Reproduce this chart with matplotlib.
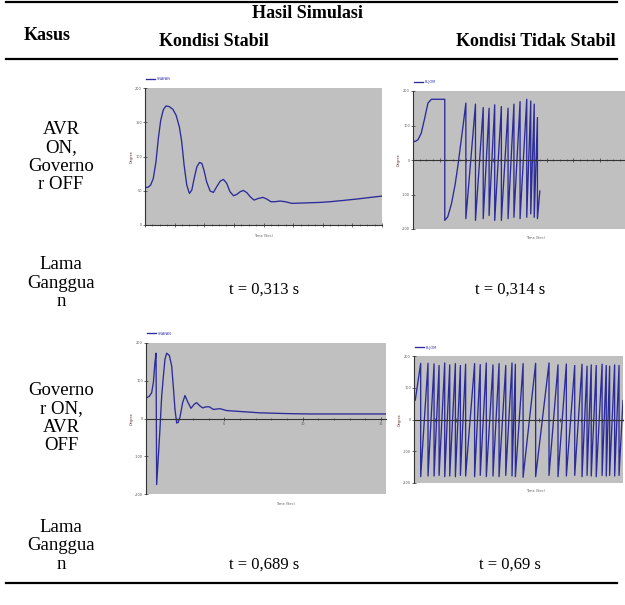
import matplotlib
matplotlib.use("Agg")
import matplotlib.pyplot as plt
from matplotlib.lines import Line2D

# ---------------- data ----------------
# Case 1: AVR ON, Governor OFF - stable (rotor angle, degree)
t_avr_stable = [0.00, 0.11, 0.19, 0.28, 0.37, 0.45, 0.53, 0.62, 0.71, 0.82, 0.94, 1.05, 1.16, 1.24,
                1.32, 1.41, 1.50, 1.58, 1.66, 1.75, 1.84, 1.92, 1.99, 2.08, 2.20, 2.31, 2.42, 2.54,
                2.65, 2.76, 2.87, 2.99, 3.10, 3.21, 3.32, 3.44, 3.55, 3.68, 3.83, 3.98, 4.11, 4.25,
                4.39, 4.56, 4.73, 4.96, 5.24, 5.58, 5.92, 6.25, 6.70, 7.15, 7.61, 8.00]
v_avr_stable = [54.4, 55.3, 58.3, 68.0, 92.2, 126.2, 152.9, 168.4, 173.8, 172.8, 168.9, 160.2, 143.2,
                121.4, 87.4, 58.3, 46.1, 51.0, 68.0, 84.9, 91.3, 89.8, 80.1, 63.1, 49.5, 47.6, 55.8,
                64.1, 66.5, 60.7, 48.5, 42.7, 44.7, 48.5, 50.5, 47.1, 41.3, 36.4, 38.8, 40.3, 37.9,
                34.0, 34.0, 35.0, 34.0, 31.6, 32.0, 32.5, 33.0, 34.0, 35.9, 37.9, 40.3, 42.2]

# Case 1: AVR ON, Governor OFF - unstable
t_avr_unstable = [0.00, 0.09, 0.19, 0.31, 0.44, 0.56, 0.69, 1.19, 1.19, 1.30, 1.44, 1.58, 1.69,
                  1.80, 1.88, 1.98,
                  1.98, 2.34, 2.34, 2.63, 2.63, 2.85, 2.85, 3.06, 3.06, 3.31, 3.31, 3.56, 3.56,
                  3.78, 3.78, 4.01, 4.01, 4.26, 4.26, 4.41, 4.41, 4.54, 4.54, 4.66, 4.66, 4.75]
v_avr_unstable = [54, 54, 59, 78, 122, 165, 176, 176, -175, -165, -127, -70, -12,
                  55, 102, 165,
                  -170, 162, -175, 152, -170, 150, -161, 160, -175, 155, -175, 150, -170,
                  162, -166, 169, -170, 176, -166, 171, -156, 162, -166, 123, -170, -90]

# Case 2: Governor ON, AVR OFF - stable
t_gov_stable = [0.04, 0.21, 0.36, 0.47, 0.57, 0.64, 0.68, 0.79, 0.89, 1.00, 1.11, 1.21, 1.32, 1.49,
                1.64, 1.74, 1.85, 1.96, 2.06, 2.17, 2.34, 2.49, 2.64, 2.87, 3.06, 3.23, 3.45, 3.62,
                3.83, 4.04, 4.30, 4.72, 5.15, 6.21, 7.28, 8.98, 10.47, 12.81, 15.32]
v_gov_stable = [55, 59, 68, 95, 148, 173, -175, -100, -29, 59, 112, 157, 173, 167,
                139, 86, 24, -12, -10, 4, 42, 61, 46, 27, 37, 42, 33, 28,
                31, 31, 24, 26, 21, 18, 15, 13, 12, 12, 12]

# Case 2: Governor ON, AVR OFF - unstable (pole slipping)
t_gov_unstable = [0.06, 0.32, 0.32, 0.67, 0.67, 0.96, 0.96, 1.20, 1.20, 1.47, 1.47, 1.71, 1.71,
                  1.98, 1.98, 2.22, 2.22, 2.47, 2.47, 2.90, 2.90, 3.17, 3.17, 3.46, 3.46, 3.78,
                  3.78, 4.07, 4.07, 4.39, 4.39, 4.69, 4.69, 4.85, 4.85, 5.22, 5.22, 5.82, 5.82,
                  6.46, 6.46, 6.89, 6.89, 7.29, 7.29, 7.69, 7.69, 8.04, 8.04, 8.28, 8.28, 8.48,
                  8.48, 8.72, 8.72, 9.00, 9.00, 9.20, 9.20, 9.36, 9.36, 9.60, 9.60, 9.81, 9.81, 10.0]
v_gov_unstable = [61, 177, -180, 177, -178, 175, -178, 170, -176, 178, -180, 172, -178,
                  176, -180, 170, -176, 174, -178, 176, -180, 173, -176, 178, -180, 172,
                  -178, 176, -180, 170, -176, 178, -178, 174, -180, 176, -182, 177, -180,
                  178, -176, 172, -180, 175, -178, 170, -176, 174, -180, 168, -176, 172,
                  -178, 170, -180, 174, -176, 170, -178, 168, -176, 172, -178, 170, -176, 60]

legend_labels = ["SNAFAN", "BLJOM", "SNAFAN", "BLJOM"]

# ---------------- figure ----------------
W, H = 625, 605
fig = plt.figure(figsize=(W / 100, H / 100), dpi=100)
fig.patch.set_facecolor("white")

SERIF = ["Liberation Serif", "DejaVu Serif"]


def fx(x):
    return x / W


def fy(y):
    return 1 - y / H


def hline(y, x0=6, x1=617, lw=1.6):
    fig.add_artist(Line2D([fx(x0), fx(x1)], [fy(y), fy(y)], transform=fig.transFigure,
                          color="black", lw=lw))


def txt(x, y, s, size=12, weight="normal", ls=1.1):
    fig.text(fx(x), fy(y), s, ha="center", va="center", fontsize=size, fontweight=weight,
             family=SERIF, linespacing=ls)


# table rules
hline(2)
hline(59)
hline(583)

# headers
txt(47, 36, "Kasus", 13, "bold")
txt(308, 14, "Hasil Simulasi", 13, "bold")
txt(214, 41, "Kondisi Stabil", 13, "bold")
txt(536, 41, "Kondisi Tidak Stabil", 13, "bold")

# row labels
txt(61, 157, "AVR\nON,\nGoverno\nr OFF", 13.5)
txt(61, 283, "Lama\nGanggua\nn", 13.5)
txt(61, 418, "Governo\nr ON,\nAVR\nOFF", 13.5)
txt(61, 546, "Lama\nGanggua\nn", 13.5)

txt(264, 290, "t = 0,313 s", 12)
txt(510, 290, "t = 0,314 s", 12)
txt(264, 565, "t = 0,689 s", 12)
txt(510, 565, "t = 0,69 s", 12)

LINE = "#2b2b99"
PANEL = "#c0c0c0"


def make_ax(x0, y0, x1, y1, t, v, xlim, ylim, yticks, xmajor, xminor, label, zero_axis=True,
            xticklabels=None):
    ax = fig.add_axes([fx(x0), fy(y1), fx(x1) - fx(x0), fy(y0) - fy(y1)])
    ax.set_facecolor(PANEL)
    ax.plot(t, v, color=LINE, lw=0.95, label=label)
    ax.set_xlim(*xlim)
    ax.set_ylim(*ylim)
    for s in ("top", "right"):
        ax.spines[s].set_visible(False)
    ax.spines["left"].set_color("#333333")
    ax.spines["left"].set_linewidth(0.8)
    ax.spines["bottom"].set_color("#333333")
    ax.spines["bottom"].set_linewidth(0.8)
    if zero_axis:
        ax.spines["bottom"].set_position(("data", 0))
    ax.set_yticks(yticks)
    ax.set_yticklabels([str(y) for y in yticks])
    ax.set_xticks(xmajor)
    ax.set_xticklabels(xticklabels if xticklabels is not None else ["" for _ in xmajor])
    ax.set_xticks(xminor, minor=True)
    ax.tick_params(axis="both", which="major", length=2.5, width=0.5, labelsize=2.5,
                   colors="#333333", labelcolor="#555555", pad=1, direction="inout")
    ax.tick_params(axis="both", which="minor", length=1.5, width=0.4, colors="#333333",
                   direction="inout")
    ax.set_ylabel("Degree", fontsize=2.5, color="#663333", labelpad=1)
    ax.set_xlabel("Time (Sec)", fontsize=2.5, color="#555555", labelpad=2)
    if zero_axis:
        ax.xaxis.set_label_coords(0.58, -0.05)
    leg = ax.legend(loc="lower left", bbox_to_anchor=(0.0, 1.04), frameon=False, fontsize=2.5,
                    handlelength=2.5, borderaxespad=0, handletextpad=0.5)
    for tx in leg.get_texts():
        tx.set_color("#3333aa")
    return ax


make_ax(145, 88, 382, 225, t_avr_stable, v_avr_stable, (0, 8), (0, 200),
        [0, 50, 100, 150, 200], list(range(0, 9)), [i * 0.25 for i in range(33)],
        legend_labels[0], zero_axis=False)
make_ax(413, 91, 625, 229, t_avr_unstable, v_avr_unstable, (0, 7.94), (-200, 200),
        [-200, -100, 0, 100, 200], [1, 2, 3, 4, 5, 6, 7], [i * 0.25 for i in range(32)],
        legend_labels[1])
make_ax(146, 343, 386, 494, t_gov_stable, v_gov_stable, (0, 15.32), (-200, 200),
        [-200, -100, 0, 100, 200], [5, 10, 15], list(range(0, 16)), legend_labels[2],
        xticklabels=["5", "10", "15"])
make_ax(414, 356, 623, 483, t_gov_unstable, v_gov_unstable, (0, 10), (-200, 200),
        [-200, -100, 0, 100, 200], [1, 2, 3, 4, 5, 6, 7, 8, 9], [i * 0.5 for i in range(21)],
        legend_labels[3])

fig.savefig("out.png", dpi=100)
